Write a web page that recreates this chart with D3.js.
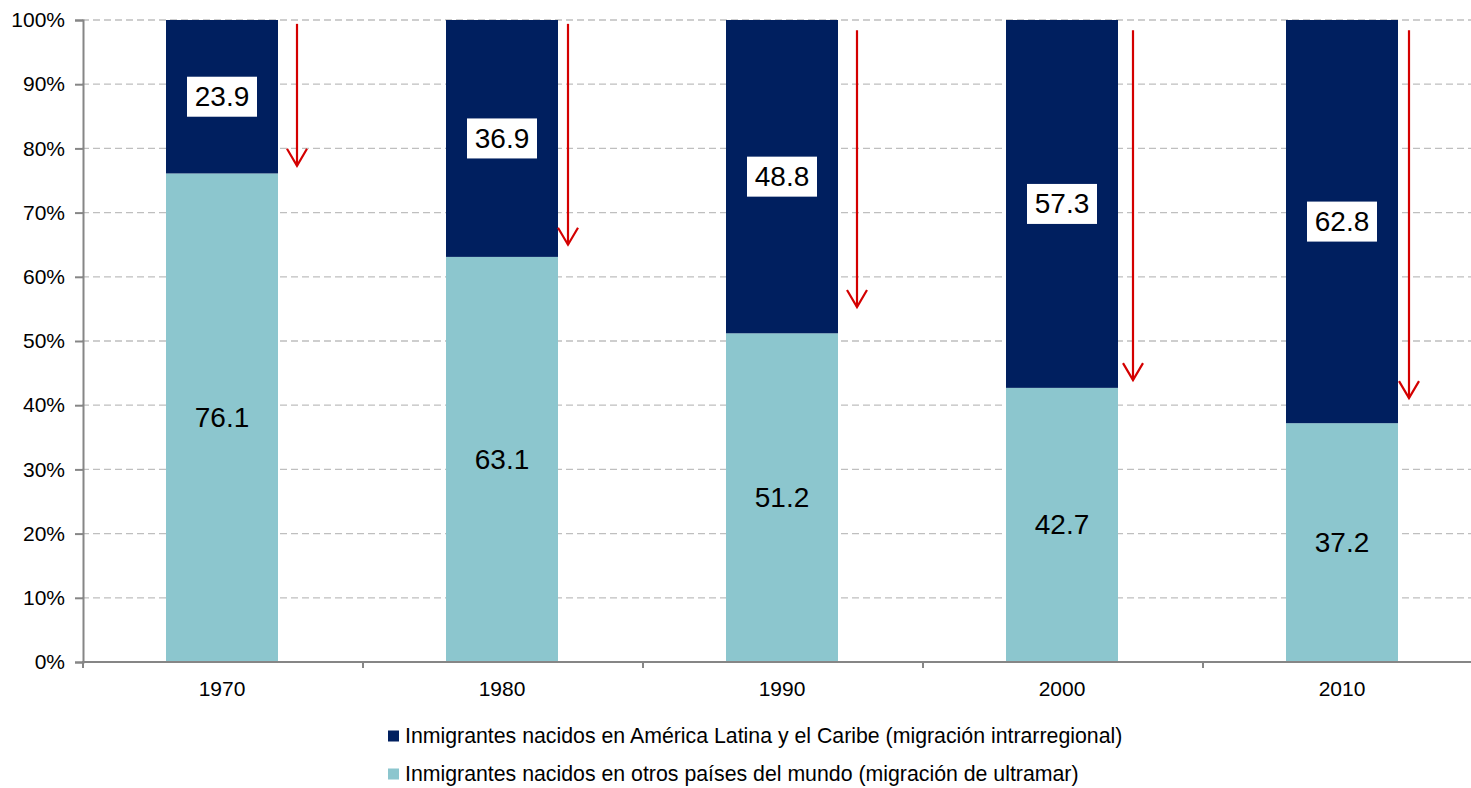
<!DOCTYPE html>
<html>
<head>
<meta charset="utf-8">
<script src="https://cdn.jsdelivr.net/npm/d3@7"></script>
<style>
html,body{margin:0;padding:0;background:#fff;}
svg{display:block;font-family:"Liberation Sans",Arial,sans-serif;}
</style>
</head>
<body>
<svg id="chart" width="1471" height="788"></svg>
<script>
const years = ["1970","1980","1990","2000","2010"];
const intraregional = [23.9, 36.9, 48.8, 57.3, 62.8];
const ultramar = [76.1, 63.1, 51.2, 42.7, 37.2];
const yTicks = [0,10,20,30,40,50,60,70,80,90,100];
const seriesNames = [
  "Inmigrantes nacidos en América Latina y el Caribe (migración intrarregional)",
  "Inmigrantes nacidos en otros países del mundo (migración de ultramar)"
];
// arrow annotations (percent values)
const arrowTop = [99.4, 99.4, 98.4, 98.4, 98.4];
const arrowTip = [77.3, 65.0, 55.3, 43.9, 41.1];
const arrowGap = [19, 10, 19, 15, 11];

(function(){
const colors = {dark:"#001F5F", light:"#8CC6CE", arrow:"#D40000", grid:"#BFBFBF", axis:"#868686"};

const svg = d3.select("#chart");
const mLeft = 82, mRight = 1482, mTop = 20, mBottom = 662;

const x = d3.scaleBand().domain(years).range([mLeft, mRight]).paddingInner(0.6).paddingOuter(0.3);
const y = d3.scaleLinear().domain([0,100]).range([mBottom, mTop]);
const step = x.step();

// gridlines
svg.append("g").selectAll("line").data(yTicks.filter(d=>d>0)).join("line")
  .attr("x1", mLeft).attr("x2", 1471)
  .attr("y1", d=>y(d)).attr("y2", d=>y(d))
  .attr("stroke", colors.grid).attr("stroke-width", 1.3)
  .attr("stroke-dasharray", "7,4");

// bars
const bars = svg.append("g");
years.forEach((yr,i)=>{
  bars.append("rect").attr("x", x(yr)).attr("width", x.bandwidth())
    .attr("y", y(ultramar[i])).attr("height", y(0)-y(ultramar[i]))
    .attr("fill", colors.light);
  bars.append("rect").attr("x", x(yr)).attr("width", x.bandwidth())
    .attr("y", y(100)).attr("height", y(ultramar[i])-y(100))
    .attr("fill", colors.dark);
});

// y axis
const yAxis = d3.axisLeft(y).tickValues(yTicks).tickFormat(d=>d+"%").tickSize(8).tickPadding(10);
const gy = svg.append("g").attr("transform", `translate(${mLeft+1},0)`).call(yAxis);
gy.select(".domain").attr("stroke", colors.axis).attr("stroke-width", 2);
gy.selectAll(".tick line").attr("stroke", colors.axis).attr("stroke-width", 2);
gy.selectAll(".tick text").attr("font-size", 21).attr("fill", "#000")
  .attr("font-family", '"Liberation Sans",Arial,sans-serif');

// x axis
const gx = svg.append("g");
gx.append("line").attr("x1", mLeft).attr("x2", 1471).attr("y1", mBottom).attr("y2", mBottom)
  .attr("stroke", colors.axis).attr("stroke-width", 2);
const boundaries = years.map((yr)=>x(yr) - (step - x.bandwidth())/2).concat([mRight]);
gx.selectAll("line.tk").data(boundaries).join("line").attr("class","tk")
  .attr("x1", d=>d+1).attr("x2", d=>d+1).attr("y1", mBottom).attr("y2", mBottom+6)
  .attr("stroke", colors.axis).attr("stroke-width", 2);
gx.selectAll("text").data(years).join("text")
  .attr("x", d=>x(d)+x.bandwidth()/2).attr("y", 688)
  .attr("text-anchor","middle").attr("dominant-baseline","central")
  .attr("font-size", 21).attr("fill","#000").text(d=>d);

// labels
const lab = svg.append("g");
years.forEach((yr,i)=>{
  const cx = x(yr)+x.bandwidth()/2;
  const cyDark = (y(100)+y(ultramar[i]))/2;
  lab.append("rect").attr("x", cx-35).attr("y", cyDark-20).attr("width",70).attr("height",40).attr("fill","#fff");
  lab.append("text").attr("x", cx).attr("y", cyDark).attr("text-anchor","middle")
    .attr("dominant-baseline","central").attr("font-size",28).attr("fill","#000")
    .text(intraregional[i].toFixed(1));
  const cyLight = (y(0)+y(ultramar[i]))/2;
  lab.append("text").attr("x", cx).attr("y", cyLight).attr("text-anchor","middle")
    .attr("dominant-baseline","central").attr("font-size",28).attr("fill","#000")
    .text(ultramar[i].toFixed(1));
});

// arrows
const ar = svg.append("g").attr("stroke", colors.arrow).attr("stroke-width", 2.2).attr("fill","none");
years.forEach((yr,i)=>{
  const ax = x(yr)+x.bandwidth()+arrowGap[i];
  const ty = y(arrowTip[i]);
  ar.append("line").attr("x1",ax).attr("x2",ax).attr("y1",y(arrowTop[i])).attr("y2",ty);
  ar.append("path").attr("d", `M${ax-10},${ty-17}L${ax},${ty}L${ax+10},${ty-17}`);
});

// legend
const lg = svg.append("g");
const legendColors = [colors.dark, colors.light];
const legendY = [736, 774];
seriesNames.forEach((name,i)=>{
  lg.append("rect").attr("x",388).attr("y",legendY[i]-5.5).attr("width",11).attr("height",11).attr("fill",legendColors[i]);
  lg.append("text").attr("x",405).attr("y",legendY[i]).attr("dominant-baseline","central")
    .attr("font-size",21.3).attr("fill","#000").text(name);
});
})();
</script>
</body>
</html>
